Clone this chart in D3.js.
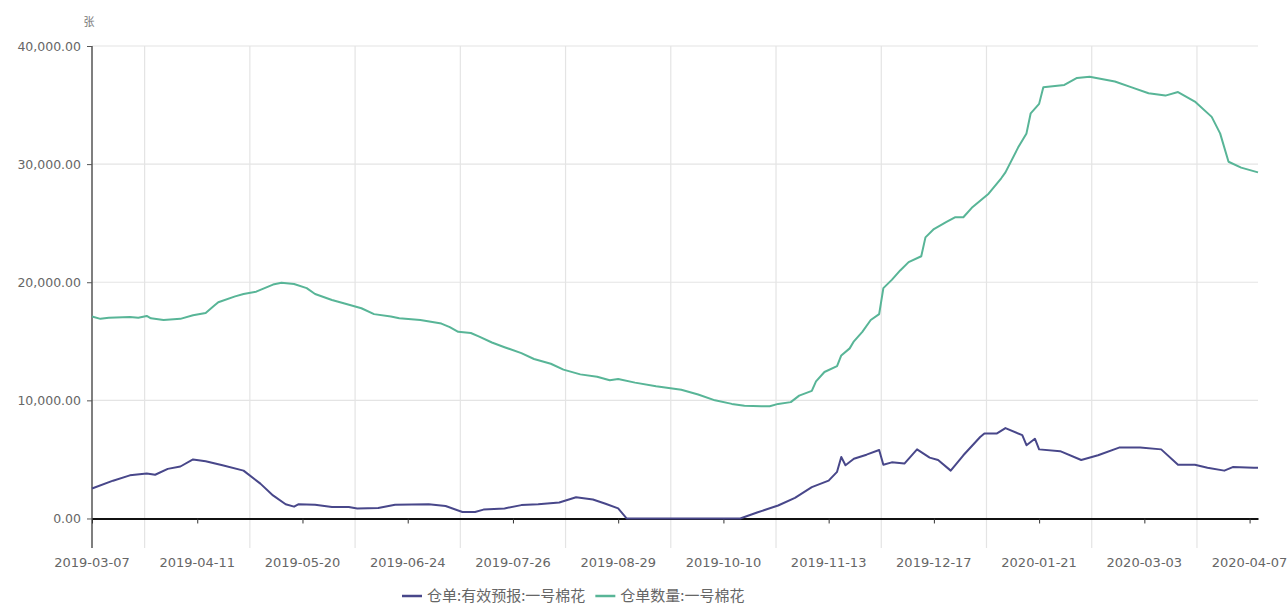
<!DOCTYPE html>
<html><head><meta charset="utf-8">
<script src="https://cdn.jsdelivr.net/npm/d3@7"></script>
<style>
html,body{margin:0;padding:0;background:#fff;}
svg{display:block;font-family:"DejaVu Sans",sans-serif;}
</style></head>
<body><svg id="c" width="1288" height="610"></svg>
<script>
// ---- data ----
const xLabels = ["2019-03-07","2019-04-11","2019-05-20","2019-06-24","2019-07-26","2019-08-29","2019-10-10","2019-11-13","2019-12-17","2020-01-21","2020-03-03","2020-04-07"];
const labelStep = 25;          // trading days between labels
const dayCount = 278;          // trading days on axis
const yTicks = [0, 10000, 20000, 30000, 40000];
const yMin = -2500, yMax = 40000;
const seriesNames = ["仓单:有效预报:一号棉花", "仓单数量:一号棉花"];
const seriesColors = ["#48478a", "#58b597"];
const unitLabel = "张";
// [trading day index, value]
const forecast = [[0,2540],[5,3200],[9,3650],[13,3800],[15,3700],[18,4200],[21,4400],[24,5000],[27,4850],[31,4500],[36,4050],[40,2950],[43,1950],[46,1200],[48,1000],[49,1200],[53,1170],[57,980],[61,980],[63,850],[68,880],[72,1170],[80,1200],[84,1050],[88,550],[91,550],[93,750],[98,850],[102,1130],[106,1200],[111,1350],[115,1800],[119,1600],[122,1250],[125,850],[127,0],[140,0],[154,0],[158,500],[163,1100],[167,1750],[171,2650],[175,3200],[177,3950],[178,5200],[179,4500],[181,5050],[184,5400],[187,5800],[188,4550],[190,4750],[193,4650],[196,5850],[199,5150],[201,4950],[204,4050],[207,5350],[211,6900],[212,7200],[215,7200],[217,7650],[221,7050],[222,6200],[224,6750],[225,5850],[230,5700],[235,4950],[239,5350],[244,6000],[249,6000],[254,5850],[258,4550],[262,4550],[265,4300],[269,4050],[271,4350],[276,4300],[277,4300]];
const receipts = [[0,17100],[2,16900],[4,17000],[9,17050],[11,17000],[13,17150],[14,16950],[17,16800],[21,16900],[24,17200],[27,17400],[29,18000],[30,18300],[34,18800],[36,19000],[39,19200],[41,19500],[43,19800],[45,19950],[48,19850],[51,19500],[53,19000],[57,18500],[60,18200],[64,17800],[67,17300],[71,17100],[73,16950],[78,16800],[83,16500],[85,16200],[87,15800],[90,15700],[92,15400],[95,14900],[98,14500],[102,14000],[105,13500],[109,13100],[112,12600],[116,12200],[120,12000],[123,11700],[125,11800],[129,11500],[134,11200],[140,10900],[144,10500],[148,10000],[152,9700],[155,9550],[159,9500],[161,9500],[163,9700],[166,9850],[168,10400],[171,10800],[172,11600],[174,12400],[177,12900],[178,13800],[180,14400],[181,15000],[183,15800],[185,16800],[187,17300],[188,19500],[190,20200],[192,21000],[194,21700],[197,22200],[198,23800],[200,24500],[203,25100],[205,25500],[207,25500],[209,26300],[213,27500],[216,28800],[217,29300],[220,31400],[222,32600],[223,34300],[225,35100],[226,36500],[231,36700],[234,37300],[237,37400],[243,37000],[247,36500],[251,36000],[255,35800],[258,36100],[262,35300],[266,34000],[268,32600],[270,30200],[273,29700],[277,29300]];

// ---- layout ----
const svg = d3.select("#c");
const L = 92, R = 1258, T = 46, B = 548;
const x = d3.scaleLinear().domain([0, dayCount - 1]).range([L, R]);
const y = d3.scaleLinear().domain([yMin, yMax]).range([B, T]);
const fmt = d3.format(",.2f");

// grid
const g = svg.append("g");
g.selectAll(".hg").data(yTicks.filter(d => d > 0)).join("line")
  .attr("x1", L).attr("x2", R).attr("y1", d => y(d)).attr("y2", d => y(d))
  .attr("stroke", "#e4e4e4").attr("stroke-width", 1.2);
const splits = xLabels.slice(0, -1).map((d, i) => i * labelStep + labelStep / 2);
g.selectAll(".vg").data(splits).join("line")
  .attr("x1", d => x(d)).attr("x2", d => x(d)).attr("y1", T).attr("y2", B)
  .attr("stroke", "#e4e4e4").attr("stroke-width", 1.2);

// y axis
const yAxis = d3.axisLeft(y).tickValues(yTicks).tickSize(5).tickSizeOuter(0).tickPadding(6).tickFormat(fmt);
const ya = svg.append("g").attr("transform", `translate(${L},0)`).call(yAxis);
ya.select(".domain").attr("stroke", "#555").attr("stroke-width", 1.5).attr("d", `M0,${B}V${T}`);
ya.selectAll(".tick line").attr("stroke", "#555");
ya.selectAll("text").attr("fill", "#666").style("font-size", "12.5px").style("font-family", "DejaVu Sans");

svg.append("text").attr("x", L - 3).attr("y", 26).attr("text-anchor", "middle")
  .attr("fill", "#777").style("font-size", "11px").style("font-family", "Noto Sans CJK SC").text(unitLabel);

// x axis at zero
const xa = svg.append("g").attr("transform", `translate(0,${y(0)})`)
  .call(d3.axisBottom(x).tickValues(xLabels.map((d, i) => i * labelStep)).tickSize(5).tickSizeOuter(0).tickFormat(""));
xa.select(".domain").attr("stroke", "#111").attr("stroke-width", 2);
xa.selectAll(".tick line").attr("stroke", "#333");
svg.append("g").selectAll("text").data(xLabels).join("text")
  .attr("x", (d, i) => x(i * labelStep)).attr("y", B + 19).attr("text-anchor", "middle")
  .attr("fill", "#666").style("font-size", "13px").text(d => d);

// lines
const line = d3.line().x(d => x(d[0])).y(d => y(d[1]));
svg.append("path").datum(receipts).attr("d", line).attr("fill", "none")
  .attr("stroke", seriesColors[1]).attr("stroke-width", 2).attr("stroke-linejoin", "round");
svg.append("path").datum(forecast).attr("d", line).attr("fill", "none")
  .attr("stroke", seriesColors[0]).attr("stroke-width", 2).attr("stroke-linejoin", "round");

// legend (items laid out one after another)
const lg = svg.append("g");
const ly = 596;
let cx = 402;
seriesNames.forEach((n, i) => {
  lg.append("line").attr("x1", cx).attr("x2", cx + 20).attr("y1", ly).attr("y2", ly)
    .attr("stroke", seriesColors[i]).attr("stroke-width", 2.5);
  const t = lg.append("text").attr("x", cx + 25).attr("y", ly).attr("dy", "0.35em")
    .attr("fill", "#666").style("font-size", "15px").style("font-family", "Noto Sans CJK SC").text(n);
  cx += 25 + t.node().getComputedTextLength() + 10;
});
</script></body></html>
